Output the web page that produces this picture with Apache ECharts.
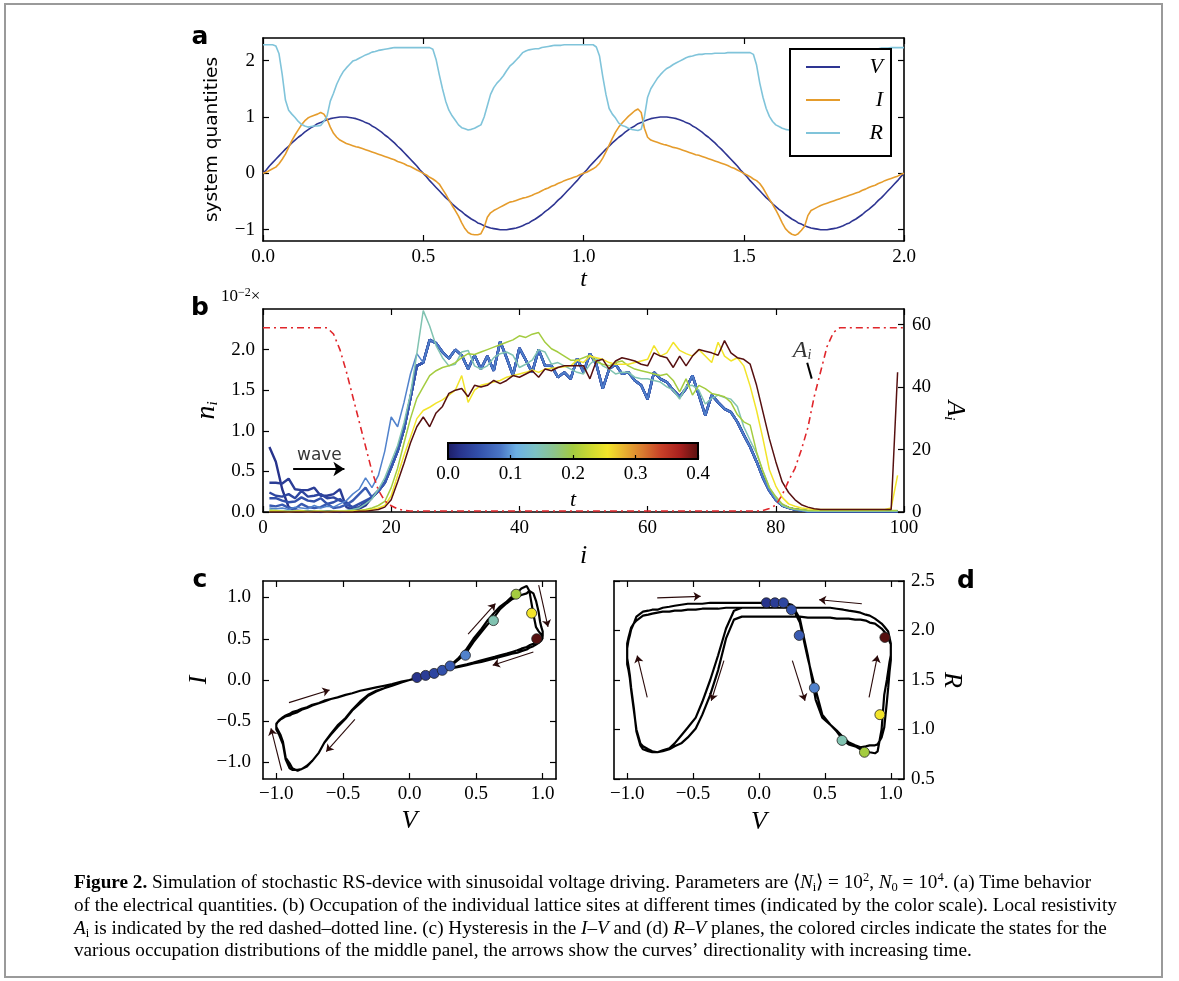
<!DOCTYPE html>
<html>
<head>
<meta charset="utf-8">
<title>Figure 2 – stochastic RS-device</title>
<script src="https://cdn.jsdelivr.net/npm/echarts@6/dist/echarts.min.js"></script>
<style>
  html, body { margin: 0; padding: 0; background: #ffffff; }
  #fig { width: 1179px; height: 981px; }
</style>
</head>
<body>
<div id="fig"></div>
<script>
// ---------- (a) system quantities versus time ----------
const timeT = [
  0,0.01,0.02,0.03,0.04,0.05,0.06,0.07,0.08,0.09,
  0.1,0.11,0.12,0.13,0.14,0.15,0.16,0.17,0.18,0.19,
  0.2,0.21,0.22,0.23,0.24,0.25,0.26,0.27,0.28,0.29,
  0.3,0.31,0.32,0.33,0.34,0.35,0.36,0.37,0.38,0.39,
  0.4,0.41,0.42,0.43,0.44,0.45,0.46,0.47,0.48,0.49,
  0.5,0.51,0.52,0.53,0.54,0.55,0.56,0.57,0.58,0.59,
  0.6,0.61,0.62,0.63,0.64,0.65,0.66,0.67,0.68,0.69,
  0.7,0.71,0.72,0.73,0.74,0.75,0.76,0.77,0.78,0.79,
  0.8,0.81,0.82,0.83,0.84,0.85,0.86,0.87,0.88,0.89,
  0.9,0.91,0.92,0.93,0.94,0.95,0.96,0.97,0.98,0.99,
  1,1.01,1.02,1.03,1.04,1.05,1.06,1.07,1.08,1.09,
  1.1,1.11,1.12,1.13,1.14,1.15,1.16,1.17,1.18,1.19,
  1.2,1.21,1.22,1.23,1.24,1.25,1.26,1.27,1.28,1.29,
  1.3,1.31,1.32,1.33,1.34,1.35,1.36,1.37,1.38,1.39,
  1.4,1.41,1.42,1.43,1.44,1.45,1.46,1.47,1.48,1.49,
  1.5,1.51,1.52,1.53,1.54,1.55,1.56,1.57,1.58,1.59,
  1.6,1.61,1.62,1.63,1.64,1.65,1.66,1.67,1.68,1.69,
  1.7,1.71,1.72,1.73,1.74,1.75,1.76,1.77,1.78,1.79,
  1.8,1.81,1.82,1.83,1.84,1.85,1.86,1.87,1.88,1.89,
  1.9,1.91,1.92,1.93,1.94,1.95,1.96,1.97,1.98,1.99,
  2
];
const voltV = [
  0,0.06,0.13,0.19,0.25,0.31,0.37,0.43,0.48,0.54,
  0.59,0.64,0.68,0.73,0.77,0.81,0.84,0.88,0.90,0.93,
  0.95,0.97,0.98,0.99,1.00,1.00,1.00,0.99,0.98,0.97,
  0.95,0.93,0.90,0.88,0.84,0.81,0.77,0.73,0.68,0.64,
  0.59,0.54,0.48,0.43,0.37,0.31,0.25,0.19,0.13,0.06,
  0,-0.06,-0.13,-0.19,-0.25,-0.31,-0.37,-0.43,-0.48,-0.54,
  -0.59,-0.64,-0.68,-0.73,-0.77,-0.81,-0.84,-0.88,-0.90,-0.93,
  -0.95,-0.97,-0.98,-0.99,-1.00,-1.00,-1.00,-0.99,-0.98,-0.97,
  -0.95,-0.93,-0.90,-0.88,-0.84,-0.81,-0.77,-0.73,-0.68,-0.64,
  -0.59,-0.54,-0.48,-0.43,-0.37,-0.31,-0.25,-0.19,-0.13,-0.06,
  0,0.06,0.13,0.19,0.25,0.31,0.37,0.43,0.48,0.54,
  0.59,0.64,0.68,0.73,0.77,0.81,0.84,0.88,0.90,0.93,
  0.95,0.97,0.98,0.99,1.00,1.00,1.00,0.99,0.98,0.97,
  0.95,0.93,0.90,0.88,0.84,0.81,0.77,0.73,0.68,0.64,
  0.59,0.54,0.48,0.43,0.37,0.31,0.25,0.19,0.13,0.06,
  0,-0.06,-0.13,-0.19,-0.25,-0.31,-0.37,-0.43,-0.48,-0.54,
  -0.59,-0.64,-0.68,-0.73,-0.77,-0.81,-0.84,-0.88,-0.90,-0.93,
  -0.95,-0.97,-0.98,-0.99,-1.00,-1.00,-1.00,-0.99,-0.98,-0.97,
  -0.95,-0.93,-0.90,-0.88,-0.84,-0.81,-0.77,-0.73,-0.68,-0.64,
  -0.59,-0.54,-0.48,-0.43,-0.37,-0.31,-0.25,-0.19,-0.13,-0.06,
  0
];
const currI = [
  0,0.02,0.05,0.08,0.11,0.17,0.25,0.34,0.46,0.58,
  0.68,0.77,0.86,0.93,0.98,1.01,1.03,1.05,1.08,1.05,
  0.96,0.82,0.71,0.64,0.59,0.56,0.53,0.51,0.49,0.47,
  0.46,0.44,0.42,0.40,0.38,0.36,0.34,0.32,0.30,0.28,
  0.26,0.24,0.21,0.19,0.17,0.14,0.12,0.09,0.06,0.03,
  0,-0.03,-0.07,-0.10,-0.14,-0.19,-0.28,-0.37,-0.47,-0.57,
  -0.66,-0.76,-0.88,-0.98,-1.05,-1.08,-1.09,-1.09,-1.07,-0.96,
  -0.78,-0.70,-0.66,-0.63,-0.60,-0.57,-0.54,-0.51,-0.50,-0.48,
  -0.46,-0.44,-0.43,-0.41,-0.39,-0.36,-0.34,-0.31,-0.28,-0.26,
  -0.23,-0.21,-0.18,-0.16,-0.13,-0.11,-0.09,-0.07,-0.05,-0.02,
  0,0.02,0.05,0.08,0.12,0.18,0.27,0.38,0.50,0.62,
  0.73,0.82,0.89,0.95,1.01,1.06,1.11,1.14,1.08,0.80,
  0.64,0.59,0.57,0.55,0.53,0.51,0.50,0.48,0.46,0.45,
  0.43,0.41,0.39,0.37,0.35,0.33,0.32,0.30,0.28,0.26,
  0.24,0.22,0.20,0.18,0.16,0.14,0.11,0.09,0.06,0.03,
  0,-0.03,-0.06,-0.10,-0.13,-0.18,-0.26,-0.36,-0.46,-0.55,
  -0.65,-0.76,-0.88,-0.98,-1.04,-1.08,-1.10,-1.07,-1.01,-0.94,
  -0.75,-0.66,-0.63,-0.60,-0.57,-0.55,-0.53,-0.51,-0.49,-0.47,
  -0.45,-0.43,-0.41,-0.39,-0.37,-0.35,-0.33,-0.30,-0.28,-0.25,
  -0.23,-0.21,-0.18,-0.16,-0.13,-0.11,-0.09,-0.07,-0.05,-0.02,
  0
];
const resR = [
  2.28,2.28,2.28,2.28,2.26,2.12,1.75,1.30,1.12,1.05,
  0.99,0.92,0.87,0.84,0.82,0.83,0.84,0.84,0.85,0.92,
  1.02,1.28,1.42,1.58,1.70,1.80,1.87,1.93,1.99,2.01,
  2.04,2.07,2.10,2.12,2.15,2.16,2.18,2.19,2.20,2.21,
  2.22,2.23,2.23,2.23,2.23,2.23,2.23,2.23,2.23,2.23,
  2.23,2.23,2.23,2.20,2.02,1.75,1.50,1.28,1.12,1.02,
  0.94,0.86,0.81,0.79,0.77,0.78,0.80,0.83,0.86,1.00,
  1.20,1.40,1.52,1.60,1.66,1.73,1.82,1.90,1.95,2.01,
  2.07,2.14,2.17,2.19,2.20,2.21,2.21,2.23,2.24,2.25,
  2.26,2.27,2.27,2.27,2.28,2.28,2.28,2.28,2.28,2.28,
  2.28,2.28,2.28,2.28,2.24,2.08,1.72,1.40,1.15,1.05,
  0.98,0.89,0.85,0.83,0.80,0.78,0.77,0.76,0.78,1.00,
  1.35,1.50,1.59,1.68,1.75,1.81,1.86,1.89,1.93,1.96,
  1.99,2.02,2.05,2.07,2.08,2.10,2.11,2.11,2.12,2.12,
  2.12,2.13,2.13,2.13,2.13,2.14,2.14,2.14,2.14,2.14,
  2.14,2.14,2.14,2.11,1.92,1.60,1.35,1.15,1.01,0.92,
  0.86,0.83,0.80,0.78,0.77,0.77,0.78,0.80,0.84,0.98,
  1.22,1.42,1.55,1.64,1.72,1.80,1.87,1.93,1.98,2.03,
  2.07,2.10,2.13,2.15,2.16,2.17,2.18,2.19,2.19,2.20,
  2.20,2.21,2.21,2.22,2.22,2.22,2.23,2.23,2.23,2.23,
  2.23
];
const tTicks = [0, 0.5, 1.0, 1.5, 2.0];
const aYTicks = [-1, 0, 1, 2];

// ---------- (b) occupation profiles along the lattice ----------
const siteIdx = [
  0,1,2,3,4,5,6,7,8,9,10,11,12,13,14,15,16,17,18,19,
  20,21,22,23,24,25,26,27,28,29,30,31,32,33,34,35,36,37,38,39,
  40,41,42,43,44,45,46,47,48,49,50,51,52,53,54,55,56,57,58,59,
  60,61,62,63,64,65,66,67,68,69,70,71,72,73,74,75,76,77,78,79,
  80,81,82,83,84,85,86,87,88,89,90,91,92,93,94,95,96,97,98,99,100
];
// common body of the early (blue) profiles, sites 17 … 99
const bulkTail = [
  0.18,0.26,0.36,0.55,0.75,1.02,1.40,1.80,1.84,2.12,
  2.08,1.97,1.89,2.00,1.93,1.76,1.93,1.76,1.92,1.74,
  2.10,1.90,1.68,2.02,1.87,1.72,2.00,1.80,1.80,1.66,
  1.72,1.64,1.89,1.72,1.95,1.82,1.52,1.76,1.82,1.70,
  1.72,1.62,1.56,1.39,1.72,1.64,1.60,1.50,1.42,1.52,
  1.68,1.44,1.19,1.44,1.35,1.27,1.23,1.11,0.95,0.80,
  0.62,0.42,0.26,0.15,0.08,0.05,0.03,0.02,0.01,0.01,
  0.01,0.01,0.01,0.01,0.01,0.01,0.01,0.01,0.01,0.01,
  0.01,0.01,0.01
];
// sites 1 … 16 of the five earliest profiles (the travelling wave)
const dbLead1 = [0.80,0.62,0.28,0.06,0.02,0.01,0.01,0.01,0.00,0.01,0.01,0.00,0.01,0.02,0.04,0.08];
const dbLead2 = [0.36,0.36,0.35,0.41,0.28,0.27,0.27,0.30,0.20,0.20,0.22,0.28,0.06,0.03,0.05,0.10];
const dbLead3 = [0.24,0.20,0.19,0.22,0.17,0.26,0.19,0.20,0.22,0.17,0.18,0.14,0.12,0.05,0.06,0.12];
const dbLead4 = [0.17,0.17,0.14,0.12,0.13,0.18,0.14,0.13,0.17,0.10,0.12,0.16,0.09,0.06,0.10,0.14];
const dbLead5 = [0.08,0.07,0.09,0.05,0.04,0.10,0.06,0.05,0.06,0.10,0.05,0.06,0.09,0.14,0.22,0.30];
// sites 1 … 24 of the light-blue profile
const lbLead = [0.05,0.04,0.05,0.03,0.06,0.05,0.04,0.08,0.05,0.07,0.06,0.10,0.14,0.22,0.28,0.42,0.30,0.45,0.75,1.17,1.05,1.35,1.70,1.95];
const tealProfile = [
  0.03,0.02,0.02,0.01,0.02,0.01,0.01,0.01,0.02,0.01,
  0.01,0.01,0.02,0.03,0.05,0.10,0.16,0.28,0.42,0.62,
  0.82,1.10,1.45,1.95,2.48,2.29,2.05,1.90,1.80,1.82,
  1.97,1.99,1.80,1.76,1.80,1.90,1.95,1.97,1.93,1.78,
  1.82,1.87,2.00,1.97,1.82,1.84,1.80,1.76,1.72,1.70,
  1.82,1.89,1.80,1.76,1.70,1.72,1.72,1.66,1.64,1.64,
  1.62,1.60,1.54,1.50,1.39,1.55,1.56,1.50,1.33,1.40,
  1.44,1.41,1.39,1.30,1.05,0.88,0.72,0.50,0.30,0.17,
  0.08,0.05,0.03,0.02,0.01,0.01,0.01,0.01,0.01,0.01,
  0.01,0.01,0.01,0.01,0.01,0.01,0.01,0.01,0.01
];
const greenProfile = [
  0.02,0.02,0.01,0.01,0.01,0.02,0.01,0.01,0.01,0.01,
  0.01,0.01,0.01,0.02,0.02,0.03,0.05,0.08,0.13,0.30,
  0.54,0.85,1.15,1.40,1.54,1.68,1.74,1.78,1.80,1.84,
  1.90,1.95,1.94,1.97,2.00,2.03,2.06,2.09,2.12,2.17,
  2.15,2.19,2.21,2.09,2.01,1.97,1.92,1.87,1.87,1.90,
  1.93,1.85,1.82,1.80,1.84,1.86,1.80,1.76,1.74,1.72,
  1.70,1.68,1.70,1.62,1.48,1.64,1.44,1.56,1.52,1.46,
  1.44,1.42,1.35,1.20,1.11,1.07,0.74,0.50,0.30,0.19,
  0.10,0.06,0.04,0.03,0.02,0.02,0.02,0.02,0.02,0.02,
  0.02,0.02,0.02,0.02,0.02,0.02,0.02,0.02,0.02
];
const yellowProfile = [
  0.01,0.01,0.01,0.00,0.01,0.01,0.00,0.01,0.01,0.00,
  0.01,0.01,0.01,0.01,0.02,0.02,0.03,0.05,0.08,0.20,
  0.45,0.70,0.92,1.15,1.25,1.29,1.34,1.38,1.44,1.50,
  1.68,1.35,1.50,1.56,1.58,1.60,1.62,1.66,1.68,1.70,
  1.72,1.75,1.72,1.76,1.77,1.78,1.79,1.80,1.87,1.84,
  1.92,1.90,1.88,1.84,1.82,1.82,1.82,1.84,1.86,1.88,
  2.05,1.92,1.96,2.09,1.99,1.95,1.92,2.00,1.92,1.84,
  2.09,1.92,1.86,1.90,1.80,1.55,1.25,0.90,0.52,0.32,
  0.18,0.10,0.07,0.05,0.04,0.03,0.03,0.03,0.03,0.03,
  0.03,0.03,0.03,0.03,0.03,0.03,0.03,0.05,0.45
];
const darkProfile = [
  0.00,0.00,0.00,0.00,0.00,0.00,0.00,0.00,0.00,0.00,
  0.00,0.00,0.00,0.00,0.01,0.01,0.02,0.03,0.06,0.15,
  0.37,0.60,0.85,1.05,1.17,1.05,1.22,1.30,1.46,1.50,
  1.52,1.42,1.56,1.54,1.56,1.62,1.58,1.62,1.68,1.66,
  1.70,1.74,1.66,1.76,1.74,1.78,1.80,1.80,1.80,1.80,
  1.64,1.86,1.88,1.76,1.86,1.90,1.88,1.86,1.82,1.80,
  1.96,1.92,1.90,1.78,1.92,1.80,1.92,2.00,1.98,1.96,
  1.93,2.11,1.96,1.90,1.88,1.82,1.56,1.23,0.90,0.62,
  0.37,0.24,0.15,0.09,0.06,0.04,0.03,0.03,0.03,0.03,
  0.03,0.03,0.03,0.03,0.03,0.03,0.03,0.03,1.72
];
// snapshot times of the ten profiles (colour scale value)
const snapshotT = [0.02, 0.03, 0.04, 0.05, 0.06, 0.09, 0.15, 0.20, 0.255, 0.40];
// local resistivity A_i, sites 0 … 100
const localA = [
  59,59,59,59,59,59,59,59,59,59,59,
  57,52,45,37,29,21,13,7,3.5,2,1,0.5,
  0.3,0.3,0.3,0.3,0.3,0.3,0.3,0.3,0.3,0.3,0.3,0.3,0.3,0.3,0.3,0.3,0.3,0.3,0.3,0.3,
  0.3,0.3,0.3,0.3,0.3,0.3,0.3,0.3,0.3,0.3,0.3,0.3,0.3,0.3,0.3,0.3,0.3,0.3,0.3,0.3,
  0.3,0.3,0.3,0.3,0.3,0.3,0.3,0.3,0.3,0.3,0.3,0.3,0.3,0.3,0.3,
  0.5,1.1,2.2,5.5,10,14,20,27,37,45,53,57.5,
  59,59,59,59,59,59,59,59,59,59,59
];
const siteTicks = [0, 20, 40, 60, 80, 100];
const nTicks = [0, 0.5, 1.0, 1.5, 2.0];
const aTicksRight = [0, 20, 40, 60];
const cbarRange = [0, 0.4];
const cbarTicks = [0, 0.1, 0.2, 0.3, 0.4];

// ---------- (c), (d) states marked on the hysteresis loops ----------
const markV = [0.056, 0.121, 0.185, 0.246, 0.305, 0.42, 0.63, 0.80, 0.917, 0.955];
const markI = [0.03, 0.056, 0.08, 0.117, 0.17, 0.30, 0.72, 1.04, 0.81, 0.50];
const markR = [2.28, 2.28, 2.28, 2.21, 1.95, 1.42, 0.89, 0.77, 1.15, 1.93];
const vTicks = [-1, -0.5, 0, 0.5, 1];
const iTicks = [-1, -0.5, 0, 0.5, 1];
const rTicks = [0.5, 1.0, 1.5, 2.0, 2.5];

// ---------- colour scale used for the snapshot times ----------
const cmapStops = [
  [0.00, '#1c1c64'], [0.02, '#27338c'], [0.05, '#3250aa'], [0.085, '#4a76c6'],
  [0.11, '#6cb0e4'], [0.14, '#7cc2c4'], [0.17, '#8cc48c'], [0.20, '#a4cc40'],
  [0.23, '#d0da30'], [0.255, '#f2e42a'], [0.28, '#e8b430'], [0.31, '#da7c30'],
  [0.34, '#c84028'], [0.37, '#a8201e'], [0.40, '#561010']
];
function hexRgb(h) { return [1, 3, 5].map(p => parseInt(h.slice(p, p + 2), 16)); }
function cmapColor(v) {
  const s = cmapStops;
  if (v <= s[0][0]) return s[0][1];
  for (let k = 1; k < s.length; k++) {
    if (v <= s[k][0]) {
      const f = (v - s[k - 1][0]) / (s[k][0] - s[k - 1][0]);
      const a = hexRgb(s[k - 1][1]), b = hexRgb(s[k][1]);
      const c = a.map((x, j) => Math.round(x + (b[j] - x) * f));
      return 'rgb(' + c.join(',') + ')';
    }
  }
  return s[s.length - 1][1];
}

// ---------- shared styles ----------
const serif = 'Liberation Serif';
const sans = 'DejaVu Sans';
const fmt = d => v => (v < 0 ? '\u2212' : '') + Math.abs(v).toFixed(d);
const tickStyle = { lineStyle: { color: '#000', width: 1.2 } };
const labelFont = { fontFamily: serif, fontSize: 19, color: '#000' };
const italicName = size => ({ fontFamily: serif, fontStyle: 'italic', fontSize: size, color: '#000' });

// every panel is framed by four axis lines; ticks point into the plot
function axis(gridIndex, min, max, ticks, position, extra) {
  return Object.assign({
    type: 'value', gridIndex, min, max, position,
    axisLine: { show: true, onZero: false, lineStyle: { color: '#000', width: 1.6 } },
    splitLine: { show: false },
    axisTick: Object.assign({ show: true, inside: true, length: 6, customValues: ticks }, tickStyle),
    axisLabel: { show: false }
  }, extra || {});
}
function labelled(ticks, digits, margin) {
  return { axisLabel: Object.assign({ show: true, margin, customValues: ticks, formatter: fmt(digits) }, labelFont) };
}

const pairs = (xs, ys) => xs.map((x, k) => [x, ys[k]]);

// ---------- grids ----------
const grids = [
  { left: 263, top: 38, width: 641, height: 203 },    // a
  { left: 263, top: 309, width: 641, height: 203 },   // b
  { left: 263, top: 581, width: 293, height: 198 },   // c
  { left: 614, top: 581, width: 290, height: 198 },   // d
  { left: 448, top: 443, width: 250, height: 16 }     // colour bar
].map(g => Object.assign({ show: false, containLabel: false }, g));

const xAxes = [
  axis(0, 0, 2, tTicks, 'bottom', Object.assign(labelled(tTicks, 1, 7), { name: 't', nameLocation: 'middle', nameGap: 25, nameTextStyle: italicName(24) })),
  axis(0, 0, 2, tTicks, 'top'),
  axis(1, 0, 100, siteTicks, 'bottom', Object.assign(labelled(siteTicks, 0, 7), { name: 'i', nameLocation: 'middle', nameGap: 31, nameTextStyle: italicName(26) })),
  axis(1, 0, 100, siteTicks, 'top'),
  axis(2, -1.1, 1.1, vTicks, 'bottom', Object.assign(labelled(vTicks, 1, 6), { name: 'V', nameLocation: 'middle', nameGap: 29, nameTextStyle: italicName(26) })),
  axis(2, -1.1, 1.1, vTicks, 'top'),
  axis(3, -1.1, 1.1, vTicks, 'bottom', Object.assign(labelled(vTicks, 1, 6), { name: 'V', nameLocation: 'middle', nameGap: 30, nameTextStyle: italicName(26) })),
  axis(3, -1.1, 1.1, vTicks, 'top'),
  axis(4, cbarRange[0], cbarRange[1], cbarTicks, 'bottom', Object.assign(labelled(cbarTicks, 1, 6), {
    z: 5, axisLine: { show: false, onZero: false },
    axisTick: Object.assign({ show: true, inside: true, length: 4, customValues: cbarTicks }, tickStyle),
    name: 't', nameLocation: 'middle', nameGap: 30, nameTextStyle: italicName(22) }))
];

const nName = { a: italicName(28), s: Object.assign(italicName(15), { verticalAlign: 'bottom', lineHeight: 14 }) };
const yAxes = [
  axis(0, -1.2, 2.4, aYTicks, 'left', Object.assign(labelled(aYTicks, 0, 8), { name: 'system quantities', nameLocation: 'middle', nameGap: 41, nameRotate: 90, nameTextStyle: { fontFamily: sans, fontSize: 18.5, color: '#000' } })),
  axis(0, -1.2, 2.4, aYTicks, 'right'),
  axis(1, 0, 2.5, nTicks, 'left', Object.assign(labelled(nTicks, 1, 8), { name: '{a|n}{s|i}', nameLocation: 'middle', nameGap: 36, nameRotate: 90, nameTextStyle: Object.assign(italicName(28), { rich: nName }) })),
  axis(1, 0, 65, aTicksRight, 'right', Object.assign(labelled(aTicksRight, 0, 8), { name: '{a|A}{s|i}', nameLocation: 'middle', nameGap: 32, nameRotate: -90, nameTextStyle: Object.assign(italicName(26), { rich: { a: italicName(26), s: Object.assign(italicName(15), { verticalAlign: 'bottom', lineHeight: 14 }) } }) })),
  axis(2, -1.2, 1.2, iTicks, 'left', Object.assign(labelled(iTicks, 1, 12), { name: 'I', nameLocation: 'middle', nameGap: 46, nameRotate: 90, nameTextStyle: italicName(26) })),
  axis(2, -1.2, 1.2, iTicks, 'right'),
  axis(3, 0.5, 2.5, rTicks, 'right', Object.assign(labelled(rTicks, 1, 7), { name: 'R', nameLocation: 'middle', nameGap: 34, nameRotate: -90, nameTextStyle: italicName(26) })),
  axis(3, 0.5, 2.5, rTicks, 'left'),
  { type: 'value', gridIndex: 4, min: 0, max: 1, show: false }
];

// ---------- series ----------
const series = [];
// (a)
[['V', voltV, '#2e3592'], ['I', currI, '#e59c2c'], ['R', resR, '#80c4da']].forEach(([name, vals, col]) => {
  series.push({ name, type: 'line', xAxisIndex: 0, yAxisIndex: 0, data: pairs(timeT, vals), symbol: 'none', color: col, lineStyle: { color: col, width: 1.6 } });
});

// (b) occupation profiles at the snapshot times
const bProfiles = [
  dbLead1.concat(bulkTail), dbLead2.concat(bulkTail), dbLead3.concat(bulkTail),
  dbLead4.concat(bulkTail), dbLead5.concat(bulkTail), lbLead.concat(bulkTail.slice(8)),
  tealProfile, greenProfile, yellowProfile, darkProfile
];
const sites = siteIdx.slice(1, 100);
bProfiles.forEach((prof, k) => {
  series.push({ name: 'n' + k, type: 'line', xAxisIndex: 2, yAxisIndex: 2, data: pairs(sites, prof), symbol: 'none',
    lineStyle: { color: cmapColor(snapshotT[k]), width: k < 5 ? 2.4 : 1.5 } });
});
series.push({ name: 'A_i', type: 'line', xAxisIndex: 2, yAxisIndex: 3, data: pairs(siteIdx, localA), symbol: 'none', z: 4,
  lineStyle: { color: '#e0262b', width: 1.6, type: [7, 4, 2, 4] } });
// annotations of (b)
series.push({ type: 'lines', coordinateSystem: 'cartesian2d', xAxisIndex: 2, yAxisIndex: 2, z: 5,
  symbol: ['none', 'arrow'], symbolSize: 11, lineStyle: { color: '#000', width: 2, opacity: 1 },
  data: [{ coords: [[4.7, 0.53], [12.7, 0.53]] }] });
series.push({ type: 'scatter', xAxisIndex: 2, yAxisIndex: 2, symbolSize: 1, itemStyle: { color: 'transparent' }, silent: true,
  data: [[8.8, 0.70]], label: { show: true, position: 'inside', formatter: 'wave', fontFamily: sans, fontSize: 17, color: '#000' } });
series.push({ type: 'lines', coordinateSystem: 'cartesian2d', xAxisIndex: 2, yAxisIndex: 3, z: 5,
  symbol: ['none', 'none'], lineStyle: { color: '#000', width: 2, opacity: 1 },
  data: [{ coords: [[84.9, 47.8], [85.6, 42.7]] }] });
series.push({ type: 'scatter', xAxisIndex: 2, yAxisIndex: 3, symbolSize: 1, itemStyle: { color: 'transparent' }, silent: true,
  data: [[84.1, 51.8]], label: { show: true, position: 'inside', formatter: '{a|A}{s|i}',
    rich: { a: italicName(24), s: Object.assign(italicName(14), { verticalAlign: 'bottom', lineHeight: 12 }) } } });
// colour bar
series.push({ type: 'custom', xAxisIndex: 8, yAxisIndex: 8, z: 3, data: [[cbarRange[0], cbarRange[1]]],
  renderItem: (params, api) => {
    const p0 = api.coord([api.value(0), 0]);
    const p1 = api.coord([api.value(1), 1]);
    const span = cbarRange[1] - cbarRange[0];
    return { type: 'rect', shape: { x: p0[0], y: p1[1], width: p1[0] - p0[0], height: p0[1] - p1[1] },
      style: { fill: new echarts.graphic.LinearGradient(0, 0, 1, 0,
        cmapStops.map(([v, c]) => ({ offset: (v - cbarRange[0]) / span, color: c }))), stroke: '#000', lineWidth: 2 } };
  } });

// (c) I–V and (d) R–V loops
const loopStyle = { color: '#000', width: 2.2 };
series.push({ name: 'I–V', type: 'line', xAxisIndex: 4, yAxisIndex: 4, data: pairs(voltV, currI), symbol: 'none', lineStyle: loopStyle });
series.push({ name: 'R–V', type: 'line', xAxisIndex: 6, yAxisIndex: 6, data: pairs(voltV, resR), symbol: 'none', lineStyle: loopStyle });
const arrowStyle = { color: '#2a0a0a', width: 1.1, opacity: 1 };
series.push({ type: 'lines', coordinateSystem: 'cartesian2d', xAxisIndex: 4, yAxisIndex: 4, z: 4,
  symbol: ['none', 'arrow'], symbolSize: 7, lineStyle: arrowStyle,
  data: [
    [[0.44, 0.556], [0.645, 0.927]], [[0.97, 1.15], [1.04, 0.645]], [[0.93, 0.34], [0.625, 0.18]],
    [[-0.905, -0.274], [-0.6, -0.12]], [[-0.41, -0.476], [-0.625, -0.867]], [[-0.96, -1.097], [-1.04, -0.585]]
  ].map(c => ({ coords: c })) });
series.push({ type: 'lines', coordinateSystem: 'cartesian2d', xAxisIndex: 6, yAxisIndex: 6, z: 4,
  symbol: ['none', 'arrow'], symbolSize: 7, lineStyle: arrowStyle,
  data: [
    [[-0.772, 2.33], [-0.443, 2.345]], [[0.78, 2.27], [0.456, 2.31]], [[-0.848, 1.325], [-0.924, 1.747]],
    [[-0.266, 1.696], [-0.362, 1.29]], [[0.253, 1.696], [0.349, 1.29]], [[0.835, 1.325], [0.899, 1.747]]
  ].map(c => ({ coords: c })) });
const markItems = ys => markV.map((v, k) => ({ value: [v, ys[k]], itemStyle: { color: cmapColor(snapshotT[k]) } }));
series.push({ type: 'scatter', xAxisIndex: 4, yAxisIndex: 4, z: 6, symbolSize: 10, data: markItems(markI),
  itemStyle: { borderColor: '#222', borderWidth: 0.8, opacity: 1 } });
series.push({ type: 'scatter', xAxisIndex: 6, yAxisIndex: 6, z: 6, symbolSize: 10, data: markItems(markR),
  itemStyle: { borderColor: '#222', borderWidth: 0.8, opacity: 1 } });

// ---------- caption and panel letters ----------
const capSize = 19.2;
const capRich = {
  b: { fontFamily: serif, fontSize: capSize, fontWeight: 'bold', lineHeight: 23 },
  i: { fontFamily: serif, fontSize: capSize, fontStyle: 'italic', lineHeight: 23 },
  sub: { fontFamily: serif, fontSize: 12.5, verticalAlign: 'bottom', lineHeight: 14 },
  sup: { fontFamily: serif, fontSize: 12.5, verticalAlign: 'top', lineHeight: 14 }
};
const captionLines = [
  '{b|Figure 2.} Simulation of stochastic RS-device with sinusoidal voltage driving. Parameters are \u27e8{i|N}{sub|i}\u27e9 = 10{sup|2}, {i|N}{sub|0} = 10{sup|4}. (a) Time behavior',
  'of the electrical quantities. (b) Occupation of the individual lattice sites at different times (indicated by the color scale). Local resistivity',
  '{i|A}{sub|i} is indicated by the red dashed\u2013dotted line. (c) Hysteresis in the {i|I}\u2013{i|V} and (d) {i|R}\u2013{i|V} planes, the colored circles indicate the states for the',
  'various occupation distributions of the middle panel, the arrows show the curves\u2019 directionality with increasing time.'
];
const captionY = [883, 906, 929, 951];
const letter = (t, x, y) => ({ type: 'text', x, y, z: 10,
  style: { text: t, fontFamily: sans, fontWeight: 'bold', fontSize: 25, fill: '#000', align: 'center', verticalAlign: 'middle' } });
const graphic = [
  { type: 'rect', shape: { x: 5, y: 4, width: 1157, height: 973 }, style: { fill: 'none', stroke: '#9a9a9a', lineWidth: 2 } },
  letter('a', 200, 37), letter('b', 200, 308), letter('c', 200, 580), letter('d', 966, 581),
  { type: 'text', x: 221, y: 297, style: { text: '10{s|\u22122}\u00d7', fontFamily: serif, fontSize: 17, fill: '#000', align: 'left', verticalAlign: 'middle', lineHeight: 20,
      rich: { s: { fontFamily: serif, fontSize: 12, verticalAlign: 'top', lineHeight: 12 } } } }
].concat(captionLines.map((txt, k) => ({ type: 'text', x: 74, y: captionY[k],
  style: { text: txt, fontFamily: serif, fontSize: capSize, lineHeight: 23, fill: '#000', align: 'left', verticalAlign: 'middle', rich: capRich } })));

const chart = echarts.init(document.getElementById('fig'), null, { renderer: 'canvas' });
chart.setOption({
  animation: false,
  backgroundColor: '#ffffff',
  grid: grids,
  xAxis: xAxes,
  yAxis: yAxes,
  legend: {
    data: ['V', 'I', 'R'], orient: 'vertical', left: 790, top: 49,
    padding: [7, 8, 12, 16], itemWidth: 34, itemHeight: 2, itemGap: 11, icon: 'rect',
    borderColor: '#000', borderWidth: 2, borderRadius: 0, backgroundColor: '#ffffff',
    formatter: '{n|{name}}',
    textStyle: { rich: { n: { fontFamily: serif, fontStyle: 'italic', fontSize: 22, lineHeight: 22, width: 38, align: 'right', color: '#000' } } }
  },
  graphic,
  series
});
</script>
</body>
</html>
